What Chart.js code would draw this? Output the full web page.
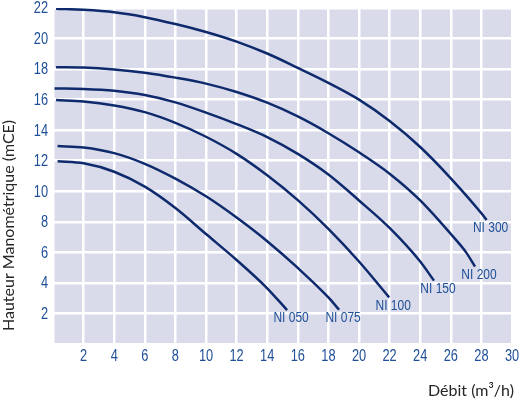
<!DOCTYPE html>
<html lang="fr">
<head>
    <meta charset="UTF-8">
    <title>Courbes pompes NI</title>
    <script src="https://cdn.jsdelivr.net/npm/chart.js"></script>
    <style>
        body { margin: 0; background: #fff; }
    </style>
</head>
<body>
    <canvas id="pumpChart" width="521" height="400"></canvas>
    <script>
// Débit (m3/h) et hauteur (mCE)
const ni050Flow = [0.3, 2, 4, 6, 8, 10, 12, 14, 15.3];
const ni050Head = [11.96, 11.83, 11.28, 10.3, 8.9, 7.2, 5.5, 3.65, 2.22];

const ni075Flow = [0.3, 2, 4, 6, 8, 10, 12, 14, 16, 18, 18.7];
const ni075Head = [12.96, 12.87, 12.5, 11.8, 10.83, 9.67, 8.28, 6.73, 4.98, 3.05, 2.24];

const ni100Flow = [0.2, 2, 4, 6, 8, 10, 12, 14, 16, 18, 20, 21.97];
const ni100Head = [15.97, 15.88, 15.62, 15.18, 14.48, 13.57, 12.45, 11.05, 9.42, 7.54, 5.4, 3.05];

const ni150Flow = [0.1, 2, 4, 6, 8, 10, 12, 14, 16, 18, 20, 22, 24, 24.9];
const ni150Head = [16.73, 16.7, 16.58, 16.3, 15.82, 15.15, 14.4, 13.55, 12.45, 11.1, 9.4, 7.6, 5.4, 4.15];

const ni200Flow = [0.2, 2, 4, 6, 8, 10, 12, 14, 16, 18, 20, 22, 24, 26, 27, 27.58];
const ni200Head = [18.12, 18.1, 17.98, 17.76, 17.44, 17.05, 16.5, 15.8, 14.9, 13.8, 12.55, 11.15, 9.4, 7.2, 6.0, 5.07];

const ni300Flow = [0.2, 2, 4, 6, 8, 10, 12, 14, 16, 18, 20, 22, 24, 26, 28, 28.34];
const ni300Head = [21.95, 21.88, 21.72, 21.4, 20.95, 20.43, 19.8, 19.02, 18.08, 17.1, 16.0, 14.6, 12.9, 10.85, 8.56, 8.12];

const pumpNames = ['NI 050', 'NI 075', 'NI 100', 'NI 150', 'NI 200', 'NI 300'];
const xTickLabels = [2, 4, 6, 8, 10, 12, 14, 16, 18, 20, 22, 24, 26, 28, 30];
const yTickLabels = [2, 4, 6, 8, 10, 12, 14, 16, 18, 20, 22];

const flows = [ni050Flow, ni075Flow, ni100Flow, ni150Flow, ni200Flow, ni300Flow];
const heads = [ni050Head, ni075Head, ni100Head, ni150Head, ni200Head, ni300Head];

const curveColor = '#0e2a6c';
const tickBlue = '#1f4f97';
const titleFont = "Lato, 'Noto Sans', sans-serif";

// Liberation Sans serrée à 80 % pour imiter la police étroite d'origine
function narrowText(ctx, text, x, y, align, size) {
    ctx.save();
    ctx.font = size + "px 'Liberation Sans', Arial, sans-serif";
    ctx.translate(x, y);
    ctx.scale(0.8, 1);
    ctx.textAlign = align;
    ctx.textBaseline = 'middle';
    ctx.fillText(text, 0, 0);
    ctx.restore();
}

// fond lavande de la zone de tracé
const plotBackground = {
    id: 'plotBackground',
    beforeDraw(chart) {
        const { ctx, chartArea: a } = chart;
        ctx.save();
        ctx.fillStyle = '#d9dbea';
        ctx.fillRect(a.left, a.top, a.right - a.left, a.bottom - a.top);
        ctx.restore();
    }
};

// graduations, noms des pompes et titres des axes
const chartTexts = {
    id: 'chartTexts',
    afterDatasetsDraw(chart) {
        const ctx = chart.ctx;
        const xs = chart.scales.x, ys = chart.scales.y;
        ctx.save();
        ctx.fillStyle = tickBlue;
        xTickLabels.forEach(v => {
            narrowText(ctx, String(v), xs.getPixelForValue(v), chart.chartArea.bottom + 13, 'center', 16);
        });
        yTickLabels.forEach(v => {
            narrowText(ctx, String(v), chart.chartArea.left - 5, ys.getPixelForValue(v) + 1, 'right', 16);
        });

        chart.data.datasets.forEach((ds, i) => {
            const pts = chart.getDatasetMeta(i).data;
            const last = pts[pts.length - 1];
            narrowText(ctx, ds.label, last.x + 4, last.y + 8, 'center', 15);
        });

        ctx.fillStyle = '#262626';
        ctx.font = '16px ' + titleFont;
        ctx.textBaseline = 'middle';
        ctx.textAlign = 'right';
        ctx.fillText('Débit (m³/h)', 514, 391);

        ctx.translate(9, 331);
        ctx.rotate(-Math.PI / 2);
        ctx.textAlign = 'left';
        ctx.fillText('Hauteur Manométrique (mCE)', 0, 0);
        ctx.restore();
    }
};

const datasets = pumpNames.map((name, i) => ({
    label: name,
    data: flows[i].map((q, j) => ({ x: q, y: heads[i][j] })),
    borderColor: curveColor,
    borderWidth: 2.5,
    pointRadius: 0,
    fill: false,
    cubicInterpolationMode: 'monotone'
}));

new Chart(document.getElementById('pumpChart'), {
    type: 'line',
    data: { datasets: datasets },
    options: {
        responsive: false,
        animation: false,
        devicePixelRatio: 1,
        layout: { padding: { top: 8, right: 9, left: 0, bottom: 0 } },
        plugins: {
            legend: { display: false },
            tooltip: { enabled: false }
        },
        scales: {
            x: {
                type: 'linear',
                min: 0,
                max: 30,
                afterFit: s => { s.height = 56; },
                grid: { color: '#ffffff', lineWidth: 2.5, drawTicks: false },
                border: { display: false },
                ticks: { stepSize: 2, display: false }
            },
            y: {
                min: 0,
                max: 22,
                afterFit: s => { s.width = 53; },
                grid: { color: '#ffffff', lineWidth: 2.5, drawTicks: false },
                border: { display: false },
                ticks: { stepSize: 2, display: false }
            }
        }
    },
    plugins: [plotBackground, chartTexts]
});
    </script>
</body>
</html>
